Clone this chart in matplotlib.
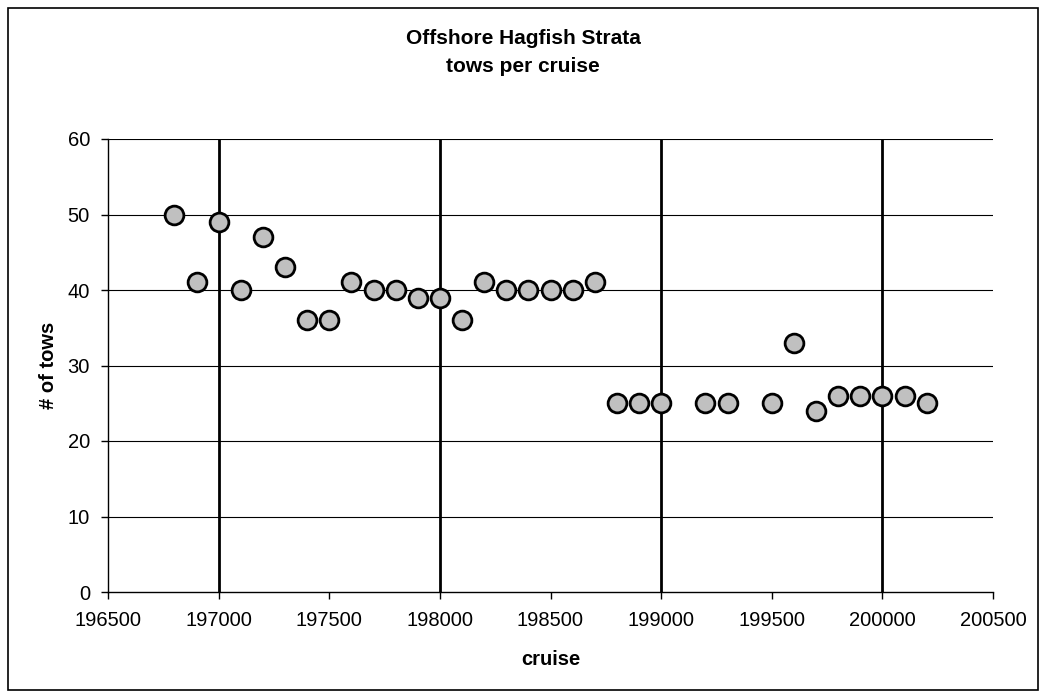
import matplotlib
matplotlib.use("Agg")
import matplotlib.pyplot as plt
from matplotlib.patches import Rectangle

plt.rcParams['font.family'] = ['Liberation Sans', 'DejaVu Sans']

cruise = [196800, 196900, 197000, 197100, 197200, 197300, 197400, 197500,
          197600, 197700, 197800, 197900, 198000, 198100, 198200, 198300,
          198400, 198500, 198600, 198700, 198800, 198900, 199000, 199200,
          199300, 199500, 199600, 199700, 199800, 199900, 200000, 200100,
          200200]
tows = [50, 41, 49, 40, 47, 43, 36, 36,
        41, 40, 40, 39, 39, 36, 41, 40,
        40, 40, 40, 41, 25, 25, 25, 25,
        25, 25, 33, 24, 26, 26, 26, 26,
        25]
decades = [197000, 198000, 199000, 200000]

fig = plt.figure(figsize=(10.46, 6.98), dpi=100)
ax = fig.add_axes([108/1046, 106/698, 885/1046, 453/698])

# outer chart border
fig.patches.append(Rectangle((8/1046, 8/698), 1030/1046, 682/698,
                             transform=fig.transFigure, fill=False,
                             edgecolor='black', linewidth=1.2))

ax.set_xlim(196500, 200500)
ax.set_ylim(0, 60)
ax.set_xticks(range(196500, 200501, 500))
ax.set_yticks(range(0, 61, 10))

for yv in range(10, 61, 10):
    ax.axhline(yv, color='black', linewidth=0.8, zorder=1)
for xv in decades:
    ax.axvline(xv, color='black', linewidth=2, zorder=1)

ax.plot(cruise, tows, linestyle='none', marker='o', markersize=13.5,
        markerfacecolor='#c0c0c0', markeredgecolor='black',
        markeredgewidth=2, zorder=3, clip_on=False)

for s in ['top', 'right']:
    ax.spines[s].set_visible(False)
ax.spines['left'].set_linewidth(1)
ax.spines['bottom'].set_linewidth(1)
ax.tick_params(direction='out', length=5, width=1, labelsize=14.5)
ax.tick_params(axis='x', pad=9)
ax.tick_params(axis='y', pad=8)

ax.set_xlabel('cruise', fontsize=14.5, fontweight='bold', labelpad=14)
ax.set_ylabel('# of tows', fontsize=14.5, fontweight='bold', labelpad=7)
fig.text(0.5, 1 - 39/698, 'Offshore Hagfish Strata', ha='center', va='center',
         fontsize=15, fontweight='bold')
fig.text(0.5, 1 - 67/698, 'tows per cruise', ha='center', va='center',
         fontsize=15, fontweight='bold')

fig.savefig('out.png', dpi=100)
